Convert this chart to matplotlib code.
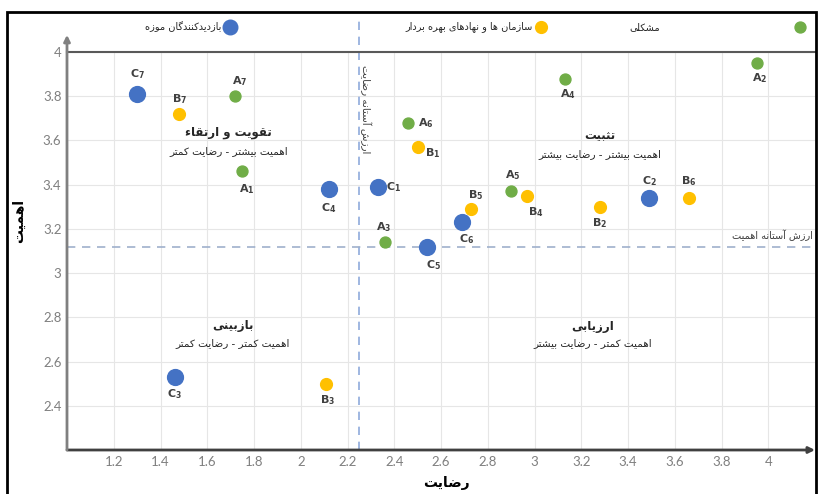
import matplotlib.pyplot as plt
from matplotlib.patches import Rectangle

# ---- data ----
# visitors (C), blue
visitor_labels = ['C1', 'C2', 'C3', 'C4', 'C5', 'C6', 'C7']
visitor_x = [2.33, 3.49, 1.46, 2.12, 2.54, 2.69, 1.30]
visitor_y = [3.39, 3.34, 2.53, 3.38, 3.12, 3.23, 3.81]

# operating organisations (B), yellow
org_labels = ['B1', 'B2', 'B3', 'B4', 'B5', 'B6', 'B7']
org_x = [2.50, 3.28, 2.11, 2.97, 2.73, 3.66, 1.48]
org_y = [3.57, 3.30, 2.50, 3.35, 3.29, 3.34, 3.72]

# third group (A), green
third_labels = ['A1', 'A2', 'A3', 'A4', 'A5', 'A6', 'A7']
third_x = [1.75, 3.95, 2.36, 3.13, 2.90, 2.46, 1.72]
third_y = [3.46, 3.95, 3.14, 3.88, 3.37, 3.68, 3.80]

satisfaction_threshold = 2.25
importance_threshold = 3.12

x_ticks = [1.2, 1.4, 1.6, 1.8, 2.0, 2.2, 2.4, 2.6, 2.8, 3.0, 3.2, 3.4, 3.6, 3.8, 4.0]
y_ticks = [2.4, 2.6, 2.8, 3.0, 3.2, 3.4, 3.6, 3.8, 4.0]

legend_names = ['بازدیدکنندگان موزه', 'سازمان ها و نهادهای بهره بردار', 'مشکلی']

# label offsets (points) for each point label, same order as the lists
visitor_off = [(11, 0), (0, 12), (0, -12), (0, -14), (5, -13), (3, -12), (0, 14)]
org_off = [(11, -4), (0, -12), (1, -12), (6, -12), (3, 10), (0, 12), (0, 11)]
third_off = [(3, -13), (2, -11), (-1, 11), (2, -11), (1, 12), (13, 0), (3, 11)]

# ---- minimal Persian shaping (matplotlib has no complex text layout) ----
FORMS = {
    'ء': ('\uFE80', None, None, None),
    'آ': ('\uFE81', '\uFE82', None, None),
    'ا': ('\uFE8D', '\uFE8E', None, None),
    'ب': ('\uFE8F', '\uFE90', '\uFE91', '\uFE92'),
    'ت': ('\uFE95', '\uFE96', '\uFE97', '\uFE98'),
    'ث': ('\uFE99', '\uFE9A', '\uFE9B', '\uFE9C'),
    'د': ('\uFEA9', '\uFEAA', None, None),
    'ر': ('\uFEAD', '\uFEAE', None, None),
    'ز': ('\uFEAF', '\uFEB0', None, None),
    'س': ('\uFEB1', '\uFEB2', '\uFEB3', '\uFEB4'),
    'ش': ('\uFEB5', '\uFEB6', '\uFEB7', '\uFEB8'),
    'ض': ('\uFEBD', '\uFEBE', '\uFEBF', '\uFEC0'),
    'ق': ('\uFED5', '\uFED6', '\uFED7', '\uFED8'),
    'ک': ('\uFB8E', '\uFB8F', '\uFB90', '\uFB91'),
    'گ': ('\uFB92', '\uFB93', '\uFB94', '\uFB95'),
    'ل': ('\uFEDD', '\uFEDE', '\uFEDF', '\uFEE0'),
    'م': ('\uFEE1', '\uFEE2', '\uFEE3', '\uFEE4'),
    'ن': ('\uFEE5', '\uFEE6', '\uFEE7', '\uFEE8'),
    'ه': ('\uFEE9', '\uFEEA', '\uFEEB', '\uFEEC'),
    'و': ('\uFEED', '\uFEEE', None, None),
    'ی': ('\uFBFC', '\uFBFD', '\uFBFE', '\uFBFF'),
}


def fa(text):
    text = text.replace('ي', 'ی').replace('ك', 'ک')
    out = []
    for i, ch in enumerate(text):
        f = FORMS.get(ch)
        if f is None:
            out.append(ch)
            continue
        prev = text[i - 1] if i > 0 else ''
        nxt = text[i + 1] if i + 1 < len(text) else ''
        join_prev = f[1] is not None and prev in FORMS and FORMS[prev][2] is not None
        join_next = f[2] is not None and nxt in FORMS and FORMS[nxt][1] is not None
        if join_prev and join_next:
            out.append(f[3])
        elif join_prev:
            out.append(f[1])
        elif join_next:
            out.append(f[2])
        else:
            out.append(f[0])
    return ''.join(reversed(out))


def sub_label(lab):
    # letter plus a lowered, slightly smaller index, as in the source chart
    return r'$\mathbf{%s_{%s}}$' % (lab[0], lab[1:])


BLUE = '#4472C4'
YELLOW = '#FFC000'
GREEN = '#70AD47'
PFONT = 'DejaVu Sans'

plt.rcParams['mathtext.fontset'] = 'dejavusans'

fig = plt.figure(figsize=(8.21, 4.94), dpi=100)
ax = fig.add_axes([67 / 821, 44 / 494, (815 - 67) / 821, (450 - 52) / 494])

ax.set_xlim(1.0, 4.2)
ax.set_ylim(2.2, 4.0)
ax.set_xticks(x_ticks)
ax.set_xticklabels(['{:g}'.format(t) for t in x_ticks])
ax.set_yticks(y_ticks)
ax.set_yticklabels(['{:g}'.format(t) for t in y_ticks])
ax.tick_params(length=0, labelsize=9.5, labelcolor='#7F7F7F', pad=4)
for lab in ax.get_xticklabels() + ax.get_yticklabels():
    lab.set_family('Lato')
ax.grid(True, color='#E6E6E6', lw=0.8, zorder=0)
ax.set_axisbelow(True)
for s in ax.spines.values():
    s.set_visible(False)

# axes with arrows
ax.annotate('', xy=(1.0, 0), xytext=(0, 0), xycoords='axes fraction',
            arrowprops=dict(arrowstyle='-|>', color='#404040', lw=2,
                            mutation_scale=9, shrinkA=0, shrinkB=0))
ax.annotate('', xy=(0, 1.043), xytext=(0, 0), xycoords='axes fraction',
            arrowprops=dict(arrowstyle='-|>', color='#808080', lw=2,
                            mutation_scale=9, shrinkA=0, shrinkB=0))
ax.axhline(4.0, color='#595959', lw=1.5, clip_on=False)

# threshold lines
ax.plot([satisfaction_threshold, satisfaction_threshold], [2.2, 4.155],
        color='#8FAADC', lw=1.2, ls=(0, (5, 4)), clip_on=False, zorder=1)
ax.axhline(importance_threshold, color='#9FB0CC', lw=1.2, ls=(0, (5, 4)), zorder=1)
ax.text(satisfaction_threshold + 0.03, 3.74, fa('ارزش آستانه رضایت'), rotation=-90,
        ha='center', va='center', fontsize=7.5, color='#404040', family=PFONT)
ax.text(4.19, 3.17, fa('ارزش آستانه اهمیت'), ha='right', va='center',
        fontsize=7, color='#404040', family=PFONT)

# points
ax.scatter(visitor_x, visitor_y, s=130, color=BLUE, zorder=4)
ax.scatter(org_x, org_y, s=72, color=YELLOW, zorder=4)
ax.scatter(third_x, third_y, s=62, color=GREEN, zorder=4)

for labels, xs, ys, offs in [(visitor_labels, visitor_x, visitor_y, visitor_off),
                             (org_labels, org_x, org_y, org_off),
                             (third_labels, third_x, third_y, third_off)]:
    for lab, x, y, off in zip(labels, xs, ys, offs):
        ax.annotate(sub_label(lab), (x, y), xytext=off, textcoords='offset points',
                    ha='center', va='center', fontsize=8,
                    color='#404040', zorder=5)

# quadrant captions
quadrants = [
    (1.69, 3.635, 3.55, 'تقویت و ارتقاء', 'اهمیت بیشتر - رضایت کمتر'),
    (3.28, 3.62, 3.54, 'تثبیت', 'اهمیت بیشتر - رضایت بیشتر'),
    (1.71, 2.765, 2.685, 'بازبینی', 'اهمیت کمتر - رضایت کمتر'),
    (3.25, 2.757, 2.685, 'ارزیابی', 'اهمیت کمتر - رضایت بیشتر'),
]
for qx, ty, sy, title, sub in quadrants:
    ax.text(qx, ty, fa(title), ha='center', va='center', fontsize=8.5,
            fontweight='bold', color='#262626', family=PFONT)
    ax.text(qx, sy, fa(sub), ha='center', va='center', fontsize=7.5,
            color='#262626', family=PFONT)

# axis titles
fig.text(19 / 821, 1 - 221 / 494, fa('اهمیت'), rotation=90, ha='center', va='center',
         fontsize=10, fontweight='bold', family=PFONT)
fig.text(446 / 821, 1 - 483 / 494, fa('رضایت'), ha='center', va='center',
         fontsize=10, fontweight='bold', family=PFONT)

# legend drawn in figure space
leg_y = 1 - 27 / 494
leg_items = [(230, 221, BLUE, 110), (541, 533, YELLOW, 72), (800, 660, GREEN, 62)]
for (mx, tx, col, size), name in zip(leg_items, legend_names):
    fig.add_artist(plt.Line2D([mx / 821], [leg_y], marker='o', color=col,
                              markersize=size ** 0.5, ls='none', transform=fig.transFigure))
    fig.text(tx / 821, leg_y, fa(name), ha='right', va='center', fontsize=7,
             color='#262626', family=PFONT)

# outer frame
fig.patches.append(Rectangle((7 / 821, -0.05), (816 - 7) / 821, 1 - 12 / 494 + 0.05,
                             transform=fig.transFigure, fill=False, lw=2, ec='black'))

fig.savefig('out.png', dpi=100)
